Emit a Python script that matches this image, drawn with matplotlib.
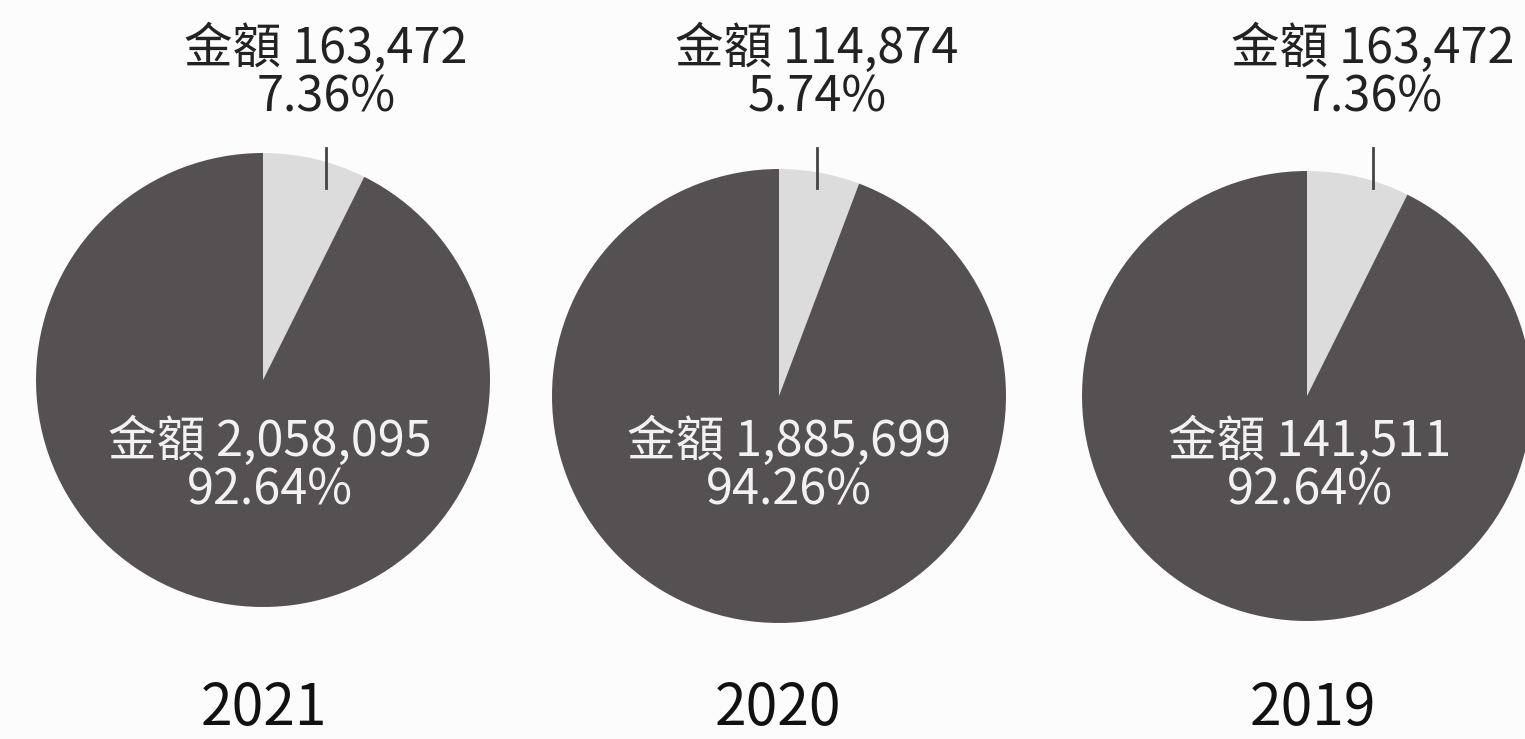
import matplotlib
matplotlib.use('Agg')
import matplotlib.pyplot as plt

plt.rcParams['font.family'] = ['Noto Sans CJK TC', 'DejaVu Sans']

# 資料
years = ['2021', '2020', '2019']
small_amount = [163472, 114874, 163472]
large_amount = [2058095, 1885699, 141511]
small_pct = [7.36, 5.74, 7.36]
large_pct = [92.64, 94.26, 92.64]

DARK = '#555152'
LIGHT = '#dcdcdc'

W, H = 1525, 739
fig = plt.figure(figsize=(W / 100, H / 100), dpi=100)
fig.patch.set_facecolor('#fcfcfc')
ax = fig.add_axes([0, 0, 1, 1])
ax.set_xlim(0, W)
ax.set_ylim(0, H)
ax.set_aspect('equal')
ax.axis('off')

# 版面位置 (像素)
centers = [(263, 380), (779, 396), (1307, 396)]
radii = [227, 227, 225]
top_label_x = [326, 817, 1373]
inner_label_x = [270, 789, 1310]
year_x = [264, 778, 1313]

for i in range(len(years)):
    cx, cy = centers[i]
    ax.pie([small_pct[i], large_pct[i]], colors=[LIGHT, DARK],
           startangle=90, counterclock=False, radius=radii[i],
           center=(cx, H - cy), frame=True,
           wedgeprops=dict(linewidth=0))

    # 上方標籤
    ax.text(top_label_x[i], H - 73,
            f'金額 {small_amount[i]:,}\n{small_pct[i]:.2f}%',
            ha='center', va='center', fontsize=35, color='#222222',
            fontweight='light', linespacing=0.97)
    ax.plot([top_label_x[i], top_label_x[i]], [H - 148, H - 188],
            color='#444444', linewidth=2)

    # 圓內標籤
    ax.text(inner_label_x[i], H - 466,
            f'金額 {large_amount[i]:,}\n{large_pct[i]:.2f}%',
            ha='center', va='center', fontsize=35, color='#f2f2f2',
            fontweight='light', linespacing=0.97)

    # 年份
    ax.text(year_x[i], H - 725, years[i], ha='center', va='baseline',
            fontsize=41, color='#111111', fontweight='light')

ax.set_xlim(0, W)
ax.set_ylim(0, H)
ax.axis('off')

fig.savefig('out.png', dpi=100, facecolor=fig.get_facecolor())
plt.close(fig)
